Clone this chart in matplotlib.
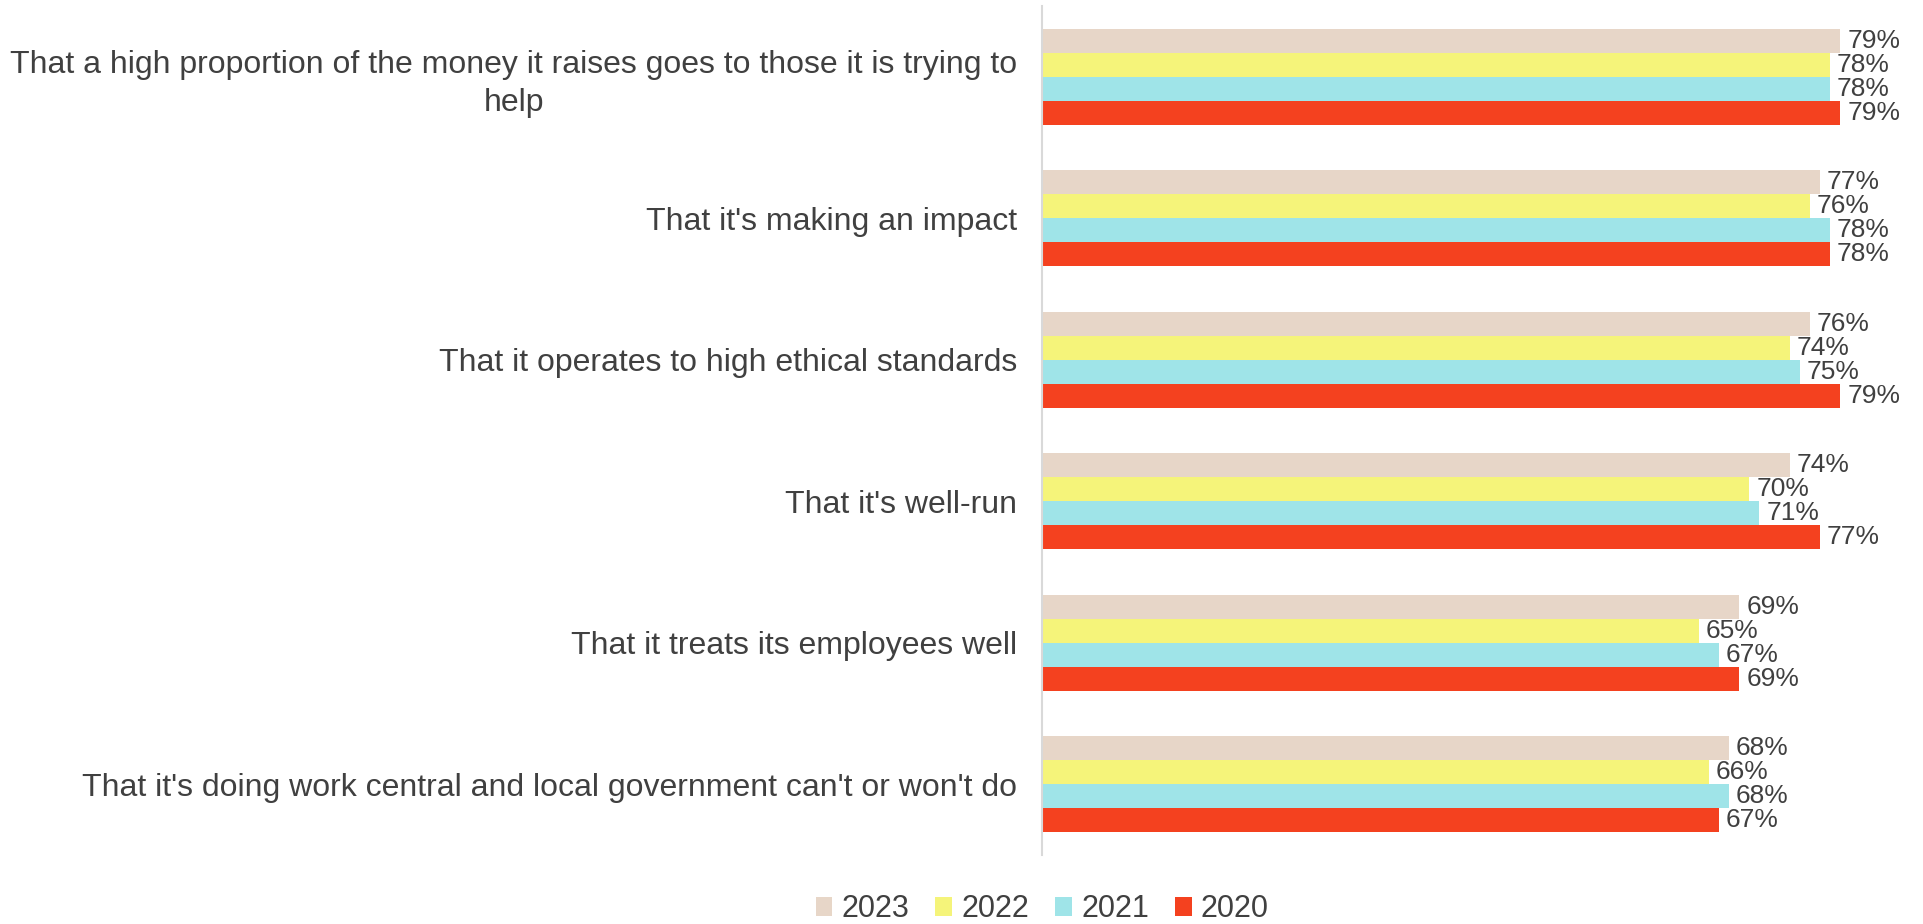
import matplotlib.pyplot as plt
import numpy as np

plt.rcParams['font.family'] = ['Liberation Sans', 'DejaVu Sans']

categories = [
    "That a high proportion of the money it raises goes to those it is trying to\nhelp",
    "That it's making an impact",
    "That it operates to high ethical standards",
    "That it's well-run",
    "That it treats its employees well",
    "That it's doing work central and local government can't or won't do",
]
years = ["2023", "2022", "2021", "2020"]
v2023 = [79, 77, 76, 74, 69, 68]
v2022 = [78, 76, 74, 70, 65, 66]
v2021 = [78, 78, 75, 71, 67, 68]
v2020 = [79, 78, 79, 77, 69, 67]
colors = ["#E7D6C8", "#F5F47A", "#9FE4E8", "#F4411F"]

series = [v2023, v2022, v2021, v2020]
text_col = "#404040"

fig = plt.figure(figsize=(19.23, 9.24), dpi=100)
ax = fig.add_axes([0.542, 0.0747, 0.457, 0.9188])

y = np.arange(len(categories))
h = 0.17
for i, (vals, yr, c) in enumerate(zip(series, years, colors)):
    pos = y - 1.5 * h + i * h
    bars = ax.barh(pos, vals, height=h, color=c, label=yr)
    ax.bar_label(bars, labels=[f"{v}%" for v in vals], padding=5,
                 fontsize=19, color=text_col)

ax.set_xlim(0, 87)
ax.set_ylim(5.5, -0.5)
ax.set_yticks(y)
ax.set_yticklabels(categories, fontsize=23, color=text_col,
                   multialignment='center', linespacing=1.35)
ax.tick_params(axis='y', length=0, pad=18)
ax.set_xticks([])
for s in ['top', 'right', 'bottom']:
    ax.spines[s].set_visible(False)
ax.spines['left'].set_color('#D9D9D9')
ax.spines['left'].set_linewidth(1.5)

fig.legend(loc='lower center', bbox_to_anchor=(0.542, -0.03), ncol=4, frameon=False,
           fontsize=22, labelcolor=text_col, handlelength=0.55, handleheight=0.55,
           handletextpad=0.3, columnspacing=0.85)

fig.savefig("out.png", dpi=100)
